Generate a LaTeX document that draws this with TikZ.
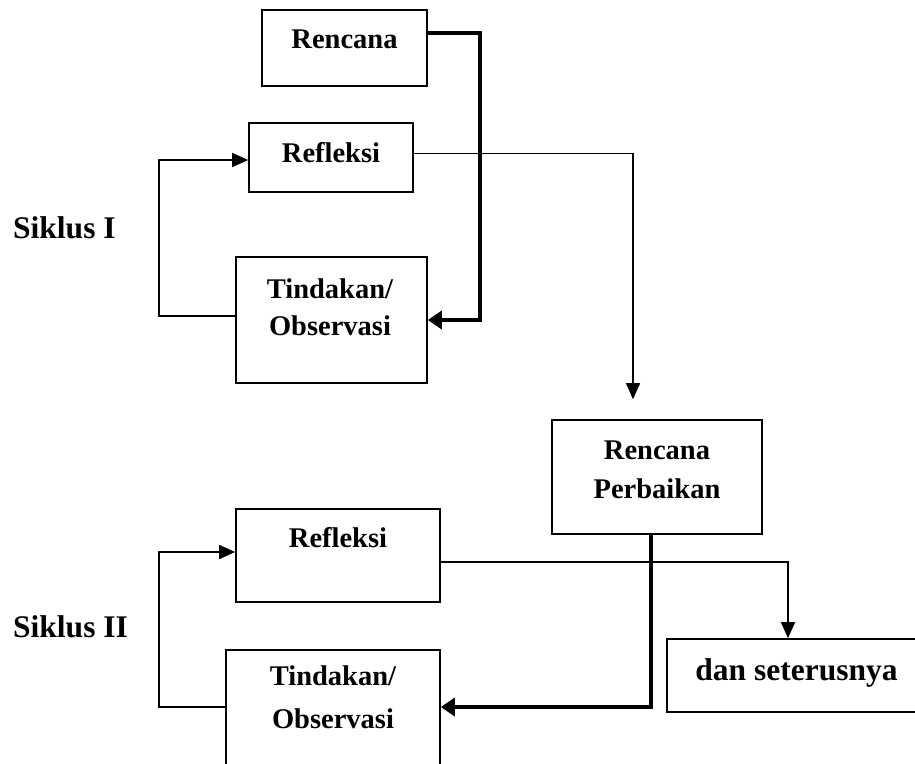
\documentclass[tikz,border=0pt]{standalone}
\usepackage{fontspec}
\setmainfont{Liberation Serif}
\usetikzlibrary{arrows.meta}
\begin{document}
\begin{tikzpicture}[x=1pt,y=-1pt,
  box/.style={draw, line width=1.6pt, inner sep=0pt},
  lbl/.style={font=\fontsize{28.5}{34}\selectfont\bfseries, anchor=base, inner sep=0pt},
  biglbl/.style={font=\fontsize{31.5}{37}\selectfont\bfseries, anchor=base west, inner sep=0pt},
  thin/.style={line width=1.5pt, -{Triangle[length=16pt,width=14pt]}},
  thick/.style={line width=4.5pt, -{Triangle[length=14pt,width=18pt]}}]
\clip (0,0) rectangle (915,763);
\fill[white] (0,0) rectangle (915,763);

% Cycle I boxes
\node[box, minimum width=165pt, minimum height=76pt] (ren) at (344.5,48) {};
\node[lbl] (renT) at (344.5,48) {Rencana};
\node[box, minimum width=164pt, minimum height=69pt] (ref1) at (331,157.5) {};
\node[lbl] (ref1T) at (331,162) {Refleksi};
\node[box, minimum width=191pt, minimum height=126pt] (tin1) at (331.5,320) {};
\node[lbl] (tin1T) at (330,298) {Tindakan/};
\node[lbl] (tin1O) at (330,335) {Observasi};

% Revised plan
\node[box, minimum width=210pt, minimum height=114pt] (rp) at (657,477) {};
\node[lbl] (rpT) at (657,459) {Rencana};
\node[lbl] (rpP) at (657,498) {Perbaikan};

% Cycle II boxes
\node[box, minimum width=204pt, minimum height=93pt] (ref2) at (338,555.5) {};
\node[lbl] (ref2T) at (338,547) {Refleksi};
\node[box, minimum width=214pt, minimum height=140pt] (tin2) at (333,720) {};
\node[lbl] (tin2T) at (333,685) {Tindakan/};
\node[lbl] (tin2O) at (333,728) {Observasi};

% Continuation
\node[box, minimum width=320pt, minimum height=73pt] (dan) at (827,675.5) {};
\node[font=\fontsize{31.5}{37}\selectfont\bfseries, anchor=base, inner sep=0pt] (danT) at (796.5,680) {dan seterusnya};

% Cycle labels
\node[biglbl] (s1) at (13,238) {Siklus I};
\node[biglbl] (s2) at (13,637) {Siklus II};

% Cycle I connectors
\draw[thick] ([yshift=15pt]ren.east) -- ++(52,0) |- (tin1.east);
\draw[thin] ([yshift=4pt]tin1.west) -- ++(-76,0) |- ([yshift=-2.5pt]ref1.west);
\draw[thin, shorten >=20pt] ([yshift=4pt]ref1.east) -| ([xshift=-24pt]rp.north);

% Cycle II connectors
\draw[thick] ([xshift=-6pt]rp.south) |- ([yshift=13pt]tin2.east);
\draw[thin] ([yshift=13pt]tin2.west) -- ++(-66,0) |- ([yshift=3.5pt]ref2.west);
\draw[thin] ([yshift=-6.5pt]ref2.east) -| ([xshift=-39pt]dan.north);
\end{tikzpicture}
\end{document}
